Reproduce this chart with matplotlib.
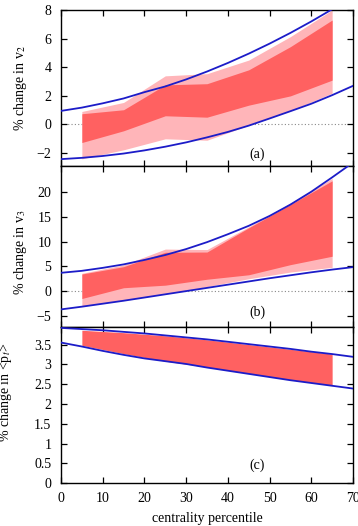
import numpy as np
import matplotlib.pyplot as plt
from matplotlib.ticker import FuncFormatter

# centrality bins (band data) and curve sample points
cent = [5, 15, 25, 35, 45, 55, 65]
xc = [0, 5, 10, 15, 20, 25, 30, 35, 40, 45, 50, 55, 60, 65, 70]

# (a) v2
v2_light_hi = [0.91, 1.54, 3.40, 3.55, 4.50, 6.14, 8.00]
v2_dark_hi = [0.75, 1.03, 2.77, 2.85, 3.82, 5.44, 7.30]
v2_dark_lo = [-1.26, -0.44, 0.61, 0.51, 1.35, 2.00, 3.10]
v2_light_lo = [-2.40, -1.77, -1.00, -1.10, -0.05, 0.95, 2.19]
v2_curve_hi = [0.95, 1.18, 1.48, 1.82, 2.26, 2.66, 3.15, 3.70, 4.30, 4.95, 5.65, 6.40, 7.20, 8.05, 8.95]
v2_curve_lo = [-2.42, -2.33, -2.20, -2.03, -1.81, -1.55, -1.25, -0.90, -0.52, -0.08, 0.42, 0.93, 1.45, 2.05, 2.70]

# (b) v3
v3_light_hi = [3.60, 5.30, 8.50, 8.40, 13.0, 17.8, 22.8]
v3_dark_hi = [3.45, 4.94, 7.85, 7.90, 12.8, 17.5, 22.3]
v3_dark_lo = [-1.50, 0.68, 1.20, 2.40, 3.30, 5.35, 7.05]
v3_light_lo = [-3.05, -1.80, -0.60, 0.90, 2.50, 3.85, 4.80]
v3_curve_hi = [3.7, 4.1, 4.7, 5.4, 6.3, 7.3, 8.5, 9.9, 11.5, 13.2, 15.2, 17.5, 20.1, 23.0, 26.0]
v3_curve_lo = [-3.70, -3.15, -2.55, -1.95, -1.30, -0.65, 0.00, 0.65, 1.30, 1.95, 2.60, 3.20, 3.80, 4.35, 4.85]

# (c) <pt>
pt_hi = [3.86, 3.80, 3.72, 3.62, 3.50, 3.38, 3.26]
pt_lo = [3.48, 3.27, 3.08, 2.93, 2.77, 2.61, 2.47]
pt_curve_hi = [3.92, 3.89, 3.86, 3.82, 3.78, 3.73, 3.68, 3.63, 3.57, 3.51, 3.45, 3.39, 3.32, 3.26, 3.19]
pt_curve_lo = [3.55, 3.45, 3.34, 3.24, 3.15, 3.08, 3.01, 2.92, 2.84, 2.76, 2.68, 2.60, 2.53, 2.46, 2.39]

plt.rcParams['font.family'] = ['Liberation Serif', 'DejaVu Serif']
plt.rcParams['mathtext.fontset'] = 'stix'

dark = '#ff6161'
light = '#ffb5b9'
blue = '#1c1cc8'
fs = 10
lw = 1.3

fig = plt.figure(figsize=(3.58, 5.26), dpi=100)
left, width = 61/358, 292/358
ax_a = fig.add_axes([left, 1-166/526, width, 156/526])
ax_b = fig.add_axes([left, 1-326.7/526, width, 160.7/526])
ax_c = fig.add_axes([left, 1-483.3/526, width, 156.6/526])

panels = [
    (ax_a, v2_light_hi, v2_light_lo, v2_dark_hi, v2_dark_lo, v2_curve_hi, v2_curve_lo),
    (ax_b, v3_light_hi, v3_light_lo, v3_dark_hi, v3_dark_lo, v3_curve_hi, v3_curve_lo),
]
for ax, lh, ll, dh, dl, ch, cl in panels:
    ax.axhline(0, color='#888888', lw=0.8, ls=(0, (1, 2)), zorder=1)
    ax.fill_between(cent, ll, lh, color=light, lw=0, zorder=2)
    ax.fill_between(cent, dl, dh, color=dark, lw=0, zorder=3)
    ax.plot(xc, ch, color=blue, lw=lw, zorder=4)
    ax.plot(xc, cl, color=blue, lw=lw, zorder=4)

ax_c.fill_between(cent, pt_lo, pt_hi, color=dark, lw=0, zorder=3)
ax_c.plot(xc, pt_curve_hi, color=blue, lw=lw, zorder=4)
ax_c.plot(xc, pt_curve_lo, color=blue, lw=lw, zorder=4)

ax_a.set_ylim(-2.9, 8)
ax_a.set_yticks([-2, 0, 2, 4, 6, 8])
ax_b.set_ylim(-7.2, 25.3)
ax_b.set_yticks([-5, 0, 5, 10, 15, 20])
ax_c.set_ylim(0, 3.95)
ax_c.set_yticks(np.arange(0, 3.6, 0.5))
ax_c.yaxis.set_major_formatter(FuncFormatter(lambda v, p: '%g' % v))

for ax in [ax_a, ax_b, ax_c]:
    ax.set_xlim(0, 70)
    ax.set_xticks(range(0, 71, 10))
    ax.tick_params(direction='in', top=True, right=True, length=4, width=0.9,
                   labelsize=fs)
    ax.tick_params(axis='y', pad=7)
    ax.tick_params(axis='x', pad=6)
    for s in ax.spines.values():
        s.set_linewidth(1.0)
ax_a.tick_params(labelbottom=False)
ax_b.tick_params(labelbottom=False)

ax_a.text(47, -2.05, '(a)', ha='center', va='center', fontsize=fs)
ax_b.text(47, -4.2, '(b)', ha='center', va='center', fontsize=fs)
ax_c.text(47, 0.46, '(c)', ha='center', va='center', fontsize=fs)

ax_a.set_ylabel(r'% change in v$_2$', fontsize=fs)
ax_b.set_ylabel(r'% change in v$_3$', fontsize=fs)
ax_c.set_ylabel(r'% change in <p$_t$>', fontsize=fs)
ax_a.yaxis.set_label_coords(-0.11, 0.5)
ax_b.yaxis.set_label_coords(-0.11, 0.46)
ax_c.yaxis.set_label_coords(-0.16, 0.58)
ax_c.set_xlabel('centrality percentile', fontsize=fs, labelpad=5)

fig.savefig('out.png', dpi=100)
